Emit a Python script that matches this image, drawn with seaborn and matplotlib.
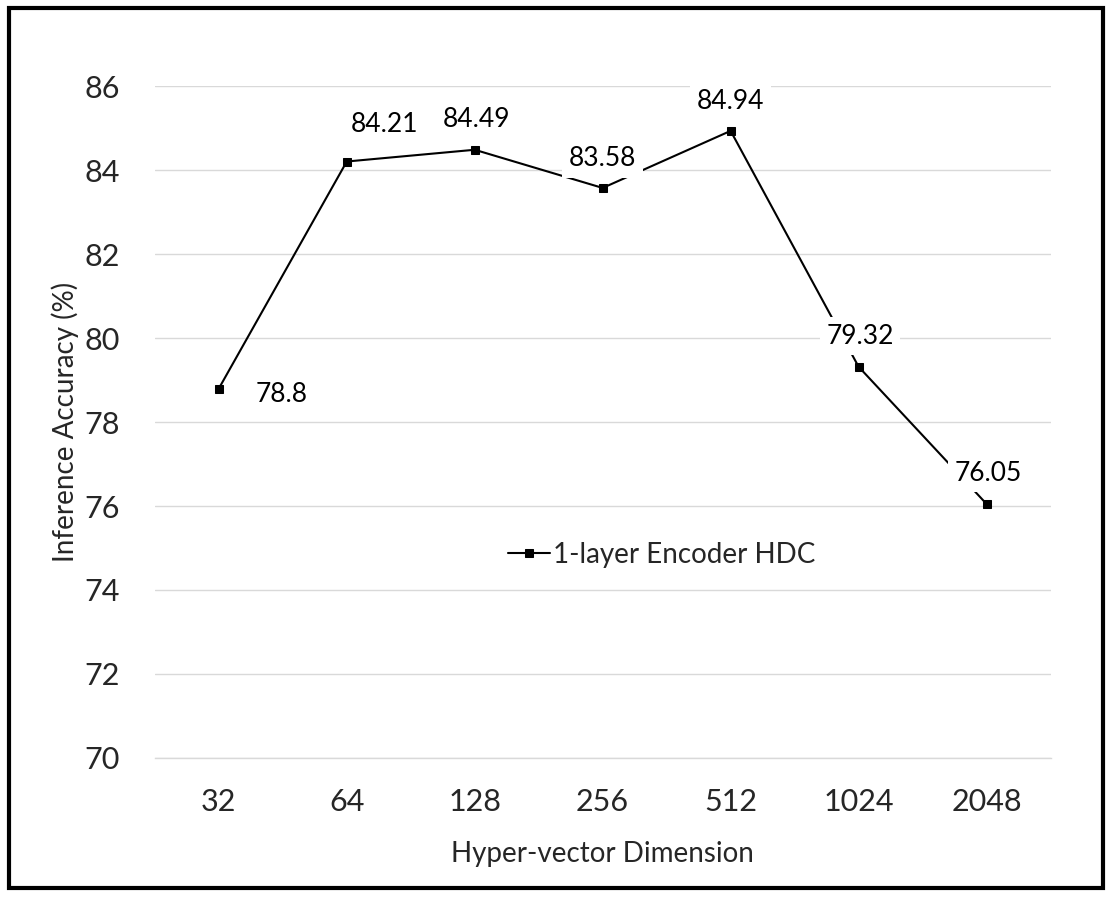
import numpy as np
import pandas as pd
import matplotlib
matplotlib.use("Agg")
import matplotlib.pyplot as plt
import seaborn as sns
from matplotlib.patches import Rectangle

# ── DATA ─────────────────────────────────────────────────────
dims     = ["32", "64", "128", "256", "512", "1024", "2048"]
accuracy = [78.8, 84.21, 84.49, 83.58, 84.94, 79.32, 76.05]
y_ticks  = [70, 72, 74, 76, 78, 80, 82, 84, 86]

# label offsets (points) relative to each marker
label_dx = [45, 27, 1, 0, 0, 1, 1]
label_dy = [-4, 27, 22, 21, 21, 22, 22]

SERIES = "1-layer Encoder HDC"

df = pd.DataFrame({"dim": dims, "acc": accuracy, "series": SERIES})
df["pos"] = np.arange(len(dims))

# ── STYLE ────────────────────────────────────────────────────
sns.set_style("white")
plt.rcParams["font.family"] = ["Lato", "DejaVu Sans"]

fig = plt.figure(figsize=(11.14, 9.0), dpi=100)
ax = fig.add_axes([0.139, 0.158, 0.804, 0.746])

sns.lineplot(data=df, x="pos", y="acc", hue="series", palette=["black"],
             marker="s", markersize=6, markeredgecolor="black",
             linewidth=1.5, ax=ax, zorder=3)

# ── DATA LABELS ──────────────────────────────────────────────
for i, v in enumerate(accuracy):
    ax.annotate(f"{v:g}", xy=(i, v), xytext=(label_dx[i], label_dy[i]),
                textcoords="offset points", ha="center", va="center",
                fontsize=19, color="black", zorder=5,
                bbox=dict(boxstyle="square,pad=0.25", fc="white", ec="none"))

# ── AXES ─────────────────────────────────────────────────────
ax.set_xlim(-0.5, len(dims) - 0.5)
ax.set_ylim(70, 86)
ax.set_xticks(range(len(dims)))
ax.set_xticklabels(dims)
ax.set_yticks(y_ticks)
ax.tick_params(axis="both", labelsize=22, length=0)
ax.tick_params(axis="x", pad=22)
ax.tick_params(axis="y", pad=25)
ax.grid(axis="y", color="#d9d9d9", linewidth=1.0, zorder=0)
ax.set_axisbelow(True)
for side in ["top", "right", "left"]:
    ax.spines[side].set_visible(False)
ax.spines["bottom"].set_color("#d9d9d9")
ax.spines["bottom"].set_linewidth(1.0)

ax.set_xlabel("Hyper-vector Dimension", fontsize=20, labelpad=18)
ax.set_ylabel("Inference Accuracy (%)", fontsize=20, labelpad=4)

leg = ax.legend(loc="center", bbox_to_anchor=(0.566, 0.302), frameon=False,
                fontsize=20, handlelength=1.5, handletextpad=0.1)

# ── FRAME ────────────────────────────────────────────────────
fig.patches.append(Rectangle((0.008, 0.013), 0.982, 0.978,
                             transform=fig.transFigure, fill=False,
                             edgecolor="black", linewidth=3))

fig.savefig("out.png", dpi=100)
